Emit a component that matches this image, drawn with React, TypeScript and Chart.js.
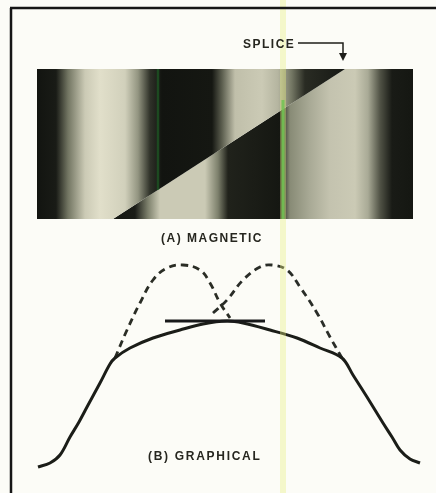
import React, { useEffect, useRef } from "react";
import { Chart, registerables } from "chart.js";

Chart.register(...registerables);

// ---- (A) MAGNETIC : magnetisation level across the tape (0 = dark, 1 = light)
const upperStripeX = [37, 56, 68, 85, 100, 125, 138, 150, 162, 212, 222, 235, 262, 278, 292, 305, 345];
const upperStripeLevel = [0.02, 0.05, 0.45, 0.85, 0.95, 0.88, 0.6, 0.15, 0.02, 0.03, 0.35, 0.8, 0.85, 0.75, 0.45, 0.12, 0.04];
const lowerStripeX = [113, 135, 148, 160, 205, 218, 228, 280, 290, 310, 330, 355, 368, 380, 392, 413];
const lowerStripeLevel = [0.03, 0.06, 0.5, 0.85, 0.85, 0.5, 0.08, 0.03, 0.55, 0.7, 0.82, 0.85, 0.7, 0.3, 0.05, 0.03];

// tape pieces either side of the splice
const upperTapeX = [37, 345, 113, 37];
const upperTapeY = [69, 69, 219, 219];
const lowerTapeX = [345, 413, 413, 113];
const lowerTapeY = [69, 69, 219, 219];

// ---- (B) GRAPHICAL
const solidX = [38, 50, 60, 70, 79, 87, 100, 110, 115, 130, 153, 180, 203, 227, 243, 270, 297, 320, 342, 353, 367, 383, 392, 400, 410, 420];
const solidY = [467, 463, 455, 437, 422, 407, 383, 364, 358, 348, 338, 330, 324, 321, 323, 330, 338, 348, 358, 375, 397, 423, 437, 450, 459, 463];
const leftHumpX = [115, 127, 140, 153, 167, 183, 200, 210, 220, 230];
const leftHumpY = [358, 330, 303, 280, 268, 265, 270, 283, 303, 318];
const rightHumpX = [213, 227, 243, 260, 272, 287, 300, 317, 330, 342];
const rightHumpY = [313, 300, 280, 267, 265, 270, 287, 313, 337, 358];
const tangentX = [165, 265];
const tangentY = [321, 321];

// scan artefact lines
const yellowX = [283, 283];
const yellowY = [0, 493];
const greenAX = [283, 283];
const greenAY = [100, 219];
const greenBX = [158, 158];
const greenBY = [69, 190];

const zip = (xs: number[], ys: number[]) => xs.map((x, i) => ({ x, y: ys[i] }));

function levelColor(l: number) {
  const dark = [14, 16, 12];
  const mid = [125, 128, 108];
  const light = [236, 233, 212];
  let a: number[], b: number[], t: number;
  if (l < 0.5) { a = dark; b = mid; t = l / 0.5; } else { a = mid; b = light; t = (l - 0.5) / 0.5; }
  const c = a.map((v, i) => Math.round(v + (b[i] - v) * t));
  return `rgb(${c[0]},${c[1]},${c[2]})`;
}

function stripeGradient(chart: any, xs: number[], levels: number[]) {
  const sx = chart.scales && chart.scales.x;
  if (!chart.chartArea || !sx) return "rgb(120,120,110)";
  const p0 = sx.getPixelForValue(xs[0]);
  const p1 = sx.getPixelForValue(xs[xs.length - 1]);
  const g = chart.ctx.createLinearGradient(p0, 0, p1, 0);
  xs.forEach((x, i) => {
    const o = Math.min(1, Math.max(0, (sx.getPixelForValue(x) - p0) / (p1 - p0)));
    g.addColorStop(o, levelColor(levels[i]));
  });
  return g;
}

const decorPlugin = {
  id: "decor",
  beforeDraw(chart: any) {
    const c = chart.ctx;
    c.save();
    c.fillStyle = "#fcfcf7";
    c.fillRect(0, 0, chart.width, chart.height);
    c.restore();
  },
  afterDatasetsDraw(chart: any) {
    const c = chart.ctx;
    const sx = chart.scales.x;
    const sy = chart.scales.y;
    const X = (v: number) => sx.getPixelForValue(v);
    const Y = (v: number) => sy.getPixelForValue(v);
    c.save();
    // frame
    c.strokeStyle = "#161616";
    c.lineWidth = 2.5;
    c.beginPath();
    c.moveTo(X(11), Y(493));
    c.lineTo(X(11), Y(8));
    c.moveTo(X(10), Y(8));
    c.lineTo(X(436), Y(8));
    c.stroke();
    // splice arrow
    c.lineWidth = 1.5;
    c.strokeStyle = "#1e1e1a";
    c.beginPath();
    c.moveTo(X(298), Y(43));
    c.lineTo(X(343), Y(43));
    c.lineTo(X(343), Y(55));
    c.stroke();
    c.fillStyle = "#1e1e1a";
    c.beginPath();
    c.moveTo(X(339), Y(53));
    c.lineTo(X(347), Y(53));
    c.lineTo(X(343), Y(61));
    c.closePath();
    c.fill();
    // labels
    c.fillStyle = "#26261f";
    c.textBaseline = "middle";
    c.textAlign = "left";
    c.font = "bold 12px 'Liberation Sans', Arial, sans-serif";
    (c as any).letterSpacing = "1.5px";
    c.fillText("SPLICE", X(243), Y(45));
    c.fillText("(A) MAGNETIC", X(161), Y(239));
    (c as any).letterSpacing = "1.7px";
    c.fillText("(B) GRAPHICAL", X(148), Y(457));
    (c as any).letterSpacing = "0px";
    c.restore();
  },
};

export default function App() {
  const ref = useRef<HTMLCanvasElement | null>(null);
  useEffect(() => {
    if (!ref.current) return;
    const chart = new Chart(ref.current, {
      type: "line",
      data: {
        datasets: [
          { data: zip(yellowX, yellowY), borderColor: "rgba(232,240,130,0.38)", borderWidth: 6, order: 0 },
          { data: zip(greenAX, greenAY), borderColor: "rgba(40,170,55,0.85)", borderWidth: 3, order: 1 },
          { data: zip(greenBX, greenBY), borderColor: "rgba(30,110,40,0.55)", borderWidth: 2.5, order: 1 },
          { data: zip(tangentX, tangentY), borderColor: "#18191a", borderWidth: 2.8, order: 2 },
          { data: zip(solidX, solidY), borderColor: "#1b1d18", borderWidth: 3, tension: 0.35, order: 3 },
          { data: zip(leftHumpX, leftHumpY), borderColor: "#2a2d25", borderWidth: 2.8, borderDash: [7, 5], tension: 0.4, order: 4 },
          { data: zip(rightHumpX, rightHumpY), borderColor: "#2a2d28", borderWidth: 2.8, borderDash: [7, 5], tension: 0.4, order: 4 },
          {
            data: zip(upperTapeX, upperTapeY),
            borderWidth: 0,
            borderColor: "rgba(0,0,0,0)",
            fill: "shape",
            backgroundColor: (ctx: any) => stripeGradient(ctx.chart, upperStripeX, upperStripeLevel),
            order: 10,
          },
          {
            data: zip(lowerTapeX, lowerTapeY),
            borderWidth: 0,
            borderColor: "rgba(0,0,0,0)",
            fill: "shape",
            backgroundColor: (ctx: any) => stripeGradient(ctx.chart, lowerStripeX, lowerStripeLevel),
            order: 10,
          },
        ] as any,
      },
      options: {
        animation: false,
        responsive: false,
        maintainAspectRatio: false,
        devicePixelRatio: 1,
        events: [],
        layout: { padding: 0 },
        elements: { point: { radius: 0 }, line: { capBezierPoints: true } },
        datasets: { line: { clip: false as any, pointRadius: 0, fill: false } } as any,
        plugins: { legend: { display: false }, tooltip: { enabled: false }, title: { display: false } },
        scales: {
          x: { type: "linear", min: 0, max: 436, display: false },
          y: { type: "linear", min: 0, max: 493, reverse: true, display: false },
        },
      },
      plugins: [decorPlugin],
    });
    return () => chart.destroy();
  }, []);
  return (
    <div style={{ position: "absolute", left: 0, top: 0, width: 436, height: 493 }}>
      <canvas ref={ref} width={436} height={493} style={{ display: "block", width: 436, height: 493 }} />
    </div>
  );
}
